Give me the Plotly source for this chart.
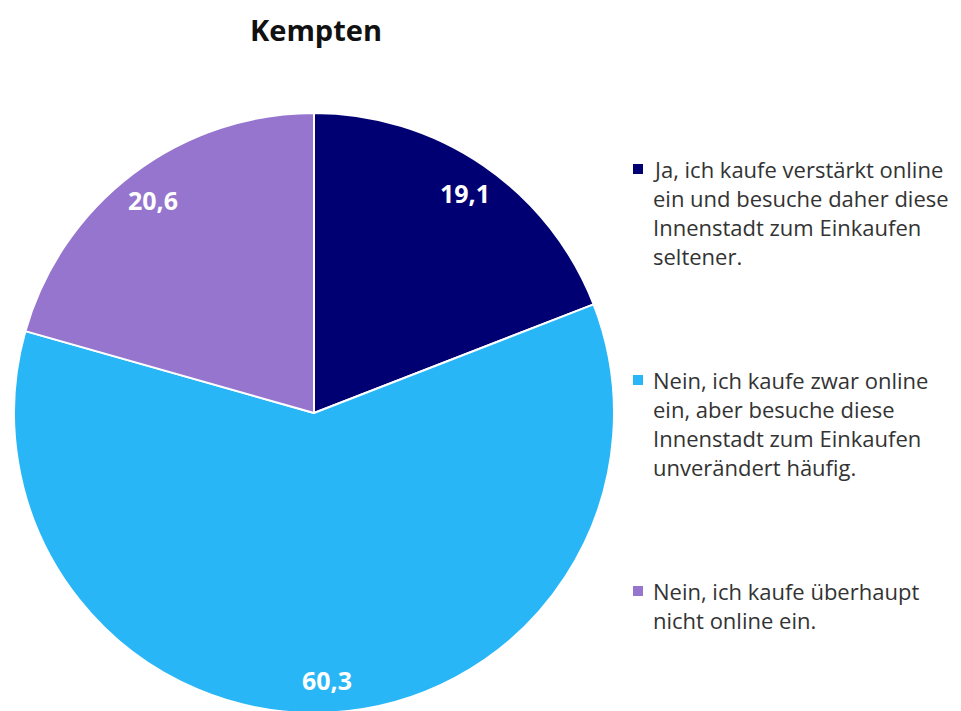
import math
import plotly.graph_objects as go

title = "Kempten"
categories = [
    "Ja, ich kaufe verstärkt online ein und besuche daher diese Innenstadt zum Einkaufen seltener.",
    "Nein, ich kaufe zwar online ein, aber besuche diese Innenstadt zum Einkaufen unverändert häufig.",
    "Nein, ich kaufe überhaupt nicht online ein.",
]
values = [19.1, 60.3, 20.6]
value_labels = ["19,1", "60,3", "20,6"]
legend_lines = [
    ["Ja, ich kaufe verstärkt online", "ein und besuche daher diese", "Innenstadt zum Einkaufen", "seltener."],
    ["Nein, ich kaufe zwar online", "ein, aber besuche diese", "Innenstadt zum Einkaufen", "unverändert häufig."],
    ["Nein, ich kaufe überhaupt", "nicht online ein."],
]
colors = ["#000073", "#29B6F6", "#9575CD"]

W, H = 961, 711
OFF = 8  # page body margin
FONT = "'Open Sans', 'Noto Sans', sans-serif"

# pie placement (pixels, in page coordinates)
px0, px1 = 14 - OFF, 614 - OFF
py_top, py_bot = 113 - OFF, 713 - OFF
dom_x = [px0 / W, px1 / W]
dom_y = [1 - py_bot / H, 1 - py_top / H]
cx = (px0 + px1) / 2
cy = (py_top + py_bot) / 2
R = (px1 - px0) / 2

fig = go.Figure()
fig.add_trace(go.Pie(
    labels=categories,
    values=values,
    sort=False,
    direction="clockwise",
    rotation=0,
    marker=dict(colors=colors, line=dict(color="white", width=2)),
    textinfo="none",
    hoverinfo="label+value",
    domain=dict(x=dom_x, y=dom_y),
    showlegend=False,
))

annotations = []
total = sum(values)
cum = 0.0
for v, lab in zip(values, value_labels):
    mid = (cum + v / 2) / total * 2 * math.pi
    cum += v
    r = 0.89 * R
    x = cx + r * math.sin(mid)
    y = cy - r * math.cos(mid)
    annotations.append(dict(
        x=x / W, y=1 - y / H, xref="paper", yref="paper",
        text=f"<b>{lab}</b>", showarrow=False,
        font=dict(family=FONT, size=25, color="white"),
        xanchor="center", yanchor="middle",
    ))

annotations.append(dict(
    x=(316 - OFF) / W, y=1.0, xref="paper", yref="paper",
    text=f"<b>{title}</b>", showarrow=False,
    font=dict(family=FONT, size=29, color="#111111"),
    xanchor="center", yanchor="top",
))

shapes = []
item_tops = [171, 382, 593]
line_gap = 29
for lines, col, y0 in zip(legend_lines, colors, item_tops):
    sy = y0 - 2 - OFF
    shapes.append(dict(
        type="rect", xref="paper", yref="paper",
        x0=(633 - OFF) / W, x1=(643 - OFF) / W,
        y0=1 - (sy + 5) / H, y1=1 - (sy - 5) / H,
        fillcolor=col, line=dict(width=0),
    ))
    for i, ln in enumerate(lines):
        annotations.append(dict(
            x=(651 - OFF) / W, y=1 - (y0 - OFF - 2 + i * line_gap) / H,
            xref="paper", yref="paper",
            text=ln, showarrow=False,
            font=dict(family=FONT, size=22, color="#333333"),
            xanchor="left", yanchor="middle",
        ))

fig.update_layout(
    width=W, height=H,
    margin=dict(l=0, r=0, t=0, b=0),
    paper_bgcolor="white",
    plot_bgcolor="white",
    annotations=annotations,
    shapes=shapes,
)

fig.write_html("out.html")
